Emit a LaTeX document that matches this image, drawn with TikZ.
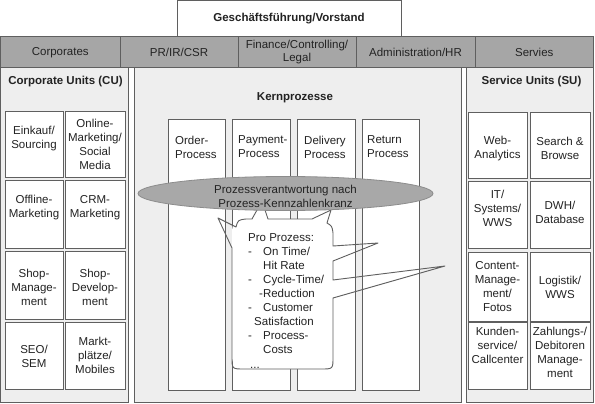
\documentclass[tikz,border=0pt]{standalone}
\usepackage{fontspec}
\setmainfont{Liberation Sans}
\usetikzlibrary{shapes.geometric}
\definecolor{bordc}{RGB}{95,95,95}
\definecolor{barc}{RGB}{166,166,166}
\definecolor{panelc}{RGB}{238,238,238}
\definecolor{ellc}{RGB}{168,168,168}
\definecolor{ellb}{RGB}{140,140,140}
\definecolor{txtc}{RGB}{35,35,35}
\begin{document}
\begin{tikzpicture}[x=1pt,y=-1pt,
  every node/.style={text=txtc, font=\fontsize{11.5}{14}\selectfont, inner sep=0pt},
  ttl/.style={font=\fontsize{11.5}{14}\selectfont\bfseries},
  lbl/.style={align=center},
  topbox/.style={draw=bordc, fill=white, line width=1pt},
  barcell/.style={draw=bordc, fill=barc, line width=1pt},
  panel/.style={draw=bordc, fill=panelc, line width=1pt},
  unitbox/.style={draw=bordc, fill=white, line width=0.9pt},
  proccol/.style={draw=bordc, fill=white, line width=0.9pt, minimum width=57.5pt, minimum height=271pt},
  proctxt/.style={anchor=north west, align=left},
  callline/.style={draw=bordc, line width=0.9pt, line join=round},
  respell/.style={ellipse, draw=ellb, fill=ellc, line width=0.8pt, minimum width=295pt, minimum height=34pt}
]
\useasboundingbox (0,0) rectangle (595,404);

% top box
\node[topbox, minimum width=224pt, minimum height=36.5pt] (top) at (289,18.75) {};
\node[ttl] (topt) at (289,18.5) {Geschäftsführung/Vorstand};

% bar
\node[barcell, minimum width=119.5pt, minimum height=31pt] (bar1) at (60.25,52.5) {Corporates};
\node[barcell, minimum width=118pt, minimum height=31pt] (bar2) at (179,52.5) {PR/IR/CSR};
\node[barcell, minimum width=118pt, minimum height=31pt, align=center, font=\fontsize{11.5}{13}\selectfont] (bar3) at (297,52.5) {Finance/Controlling/\\Legal};
\node[barcell, minimum width=119pt, minimum height=31pt] (bar4) at (415.5,52.5) {Administration/HR};
\node[barcell, minimum width=118.5pt, minimum height=31pt] (bar5) at (534.25,52.5) {Servies};

% panels
\node[panel, minimum width=127.5pt, minimum height=334pt] (cu) at (64.25,235) {};
\node[panel, minimum width=327pt, minimum height=334pt] (kp) at (297.5,235) {};
\node[panel, minimum width=127pt, minimum height=334pt] (su) at (529.5,235) {};
\node[ttl] (cut) at (65.5,82) {Corporate Units (CU)};
\node[ttl] (kpt) at (295,98) {Kernprozesse};
\node[ttl] (sut) at (531.5,82) {Service Units (SU)};

% corporate units
\node[unitbox, minimum width=58pt, minimum height=66pt] (cu1) at (34,144) {};
\node[unitbox, minimum width=60pt, minimum height=66pt] (cu2) at (95,144) {};
\node[unitbox, minimum width=58pt, minimum height=68pt] (cu3) at (34,214) {};
\node[unitbox, minimum width=60pt, minimum height=68pt] (cu4) at (95,214) {};
\node[unitbox, minimum width=58pt, minimum height=68pt] (cu5) at (34,285) {};
\node[unitbox, minimum width=60pt, minimum height=68pt] (cu6) at (95,285) {};
\node[unitbox, minimum width=58pt, minimum height=67pt] (cu7) at (34,355.5) {};
\node[unitbox, minimum width=60pt, minimum height=67pt] (cu8) at (95,355.5) {};
\node[lbl] (cu1t) at (34,139) {Einkauf/\\Sourcing};
\node[lbl] (cu2t) at (95,144.5) {Online-\\Marketing/\\Social\\Media};
\node[lbl] (cu3t) at (34,208) {Offline-\\Marketing};
\node[lbl] (cu4t) at (95,208) {CRM-\\Marketing};
\node[lbl] (cu5t) at (34,287.5) {Shop-\\Manage-\\ment};
\node[lbl] (cu6t) at (95,287.5) {Shop-\\Develop-\\ment};
\node[lbl] (cu7t) at (34,356.5) {SEO/\\SEM};
\node[lbl] (cu8t) at (95,355.5) {Markt-\\plätze/\\Mobiles};

% service units
\node[unitbox, minimum width=59pt, minimum height=66pt] (su1) at (497.5,145) {};
\node[unitbox, minimum width=60pt, minimum height=66pt] (su2) at (560,145) {};
\node[unitbox, minimum width=59pt, minimum height=67pt] (su3) at (497.5,214.5) {};
\node[unitbox, minimum width=60pt, minimum height=67pt] (su4) at (560,214.5) {};
\node[unitbox, minimum width=59pt, minimum height=69pt] (su5) at (497.5,286.5) {};
\node[unitbox, minimum width=60pt, minimum height=69pt] (su6) at (560,286.5) {};
\node[unitbox, minimum width=59pt, minimum height=67pt] (su7) at (497.5,355.5) {};
\node[unitbox, minimum width=60pt, minimum height=67pt] (su8) at (560,355.5) {};
\node[lbl] (su1t) at (497.5,148.5) {Web-\\Analytics};
\node[lbl] (su2t) at (560,148.5) {Search \&\\Browse};
\node[lbl] (su3t) at (497.5,208) {IT/\\Systems/\\WWS};
\node[lbl] (su4t) at (560,212.5) {DWH/\\Database};
\node[lbl] (su5t) at (497.5,287) {Content-\\Manage-\\ment/\\Fotos};
\node[lbl] (su6t) at (560,287) {Logistik/\\WWS};
\node[lbl] (su7t) at (497.5,345) {Kunden-\\service/\\Callcenter};
\node[lbl] (su8t) at (560,352) {Zahlungs-/\\Debitoren\\Manage-\\ment};

% process columns
\node[proccol] (p1) at (197,254.5) {};
\node[proccol] (p2) at (261.5,254.5) {};
\node[proccol] (p3) at (326.5,254.5) {};
\node[proccol] (p4) at (391,254.5) {};
\node[proctxt] (p1t) at (175,135.7) {Order-\\Process};
\node[proctxt] (p2t) at (238,135.7) {Payment-\\Process};
\node[proctxt] (p3t) at (304,135.7) {Delivery\\Process};
\node[proctxt] (p4t) at (367,135.7) {Return\\Process};

% callout
\coordinate (tip1) at (218,218);
\coordinate (tip2) at (262,201);
\coordinate (tip3) at (331,210);
\coordinate (tip4) at (378,243);
\coordinate (tip5) at (445,266);
\path[fill=white, rounded corners=11pt] (232,219) rectangle (333,369);
\draw[callline] (246,219) -- (252,219) -- (tip2) -- (268,219) -- (312,219) -- (tip3) -- (327,223)
  .. controls (332,226) .. (333,233) -- (333,246) -- (tip4) -- (333,261) -- (333,280) -- (tip5)
  -- (333,298) -- (333,357) .. controls (333,369) .. (321,369) -- (244,369)
  .. controls (232,369) .. (232,357) -- (232,248) -- (tip1) -- (236,227)
  .. controls (238,220) .. (246,219) -- cycle;
\node[anchor=north west, align=left] (ctext) at (248,233.7) {Pro Prozess:\\
\makebox[15pt][l]{-}On Time/\\
\hspace*{15pt}Hit Rate\\
\makebox[15pt][l]{-}Cycle-Time/\\
\hspace*{11pt}-Reduction\\
\makebox[15pt][l]{-}Customer\\
\hspace*{6pt}Satisfaction\\
\makebox[15pt][l]{-}Process-\\
\hspace*{15pt}Costs\\[1pt]
\hspace*{2pt}...};

% ellipse
\node[respell] (resp) at (285.5,193.5) {};
\node[lbl] (respt) at (285.5,196) {Prozessverantwortung nach\\Prozess-Kennzahlenkranz};
\end{tikzpicture}
\end{document}
